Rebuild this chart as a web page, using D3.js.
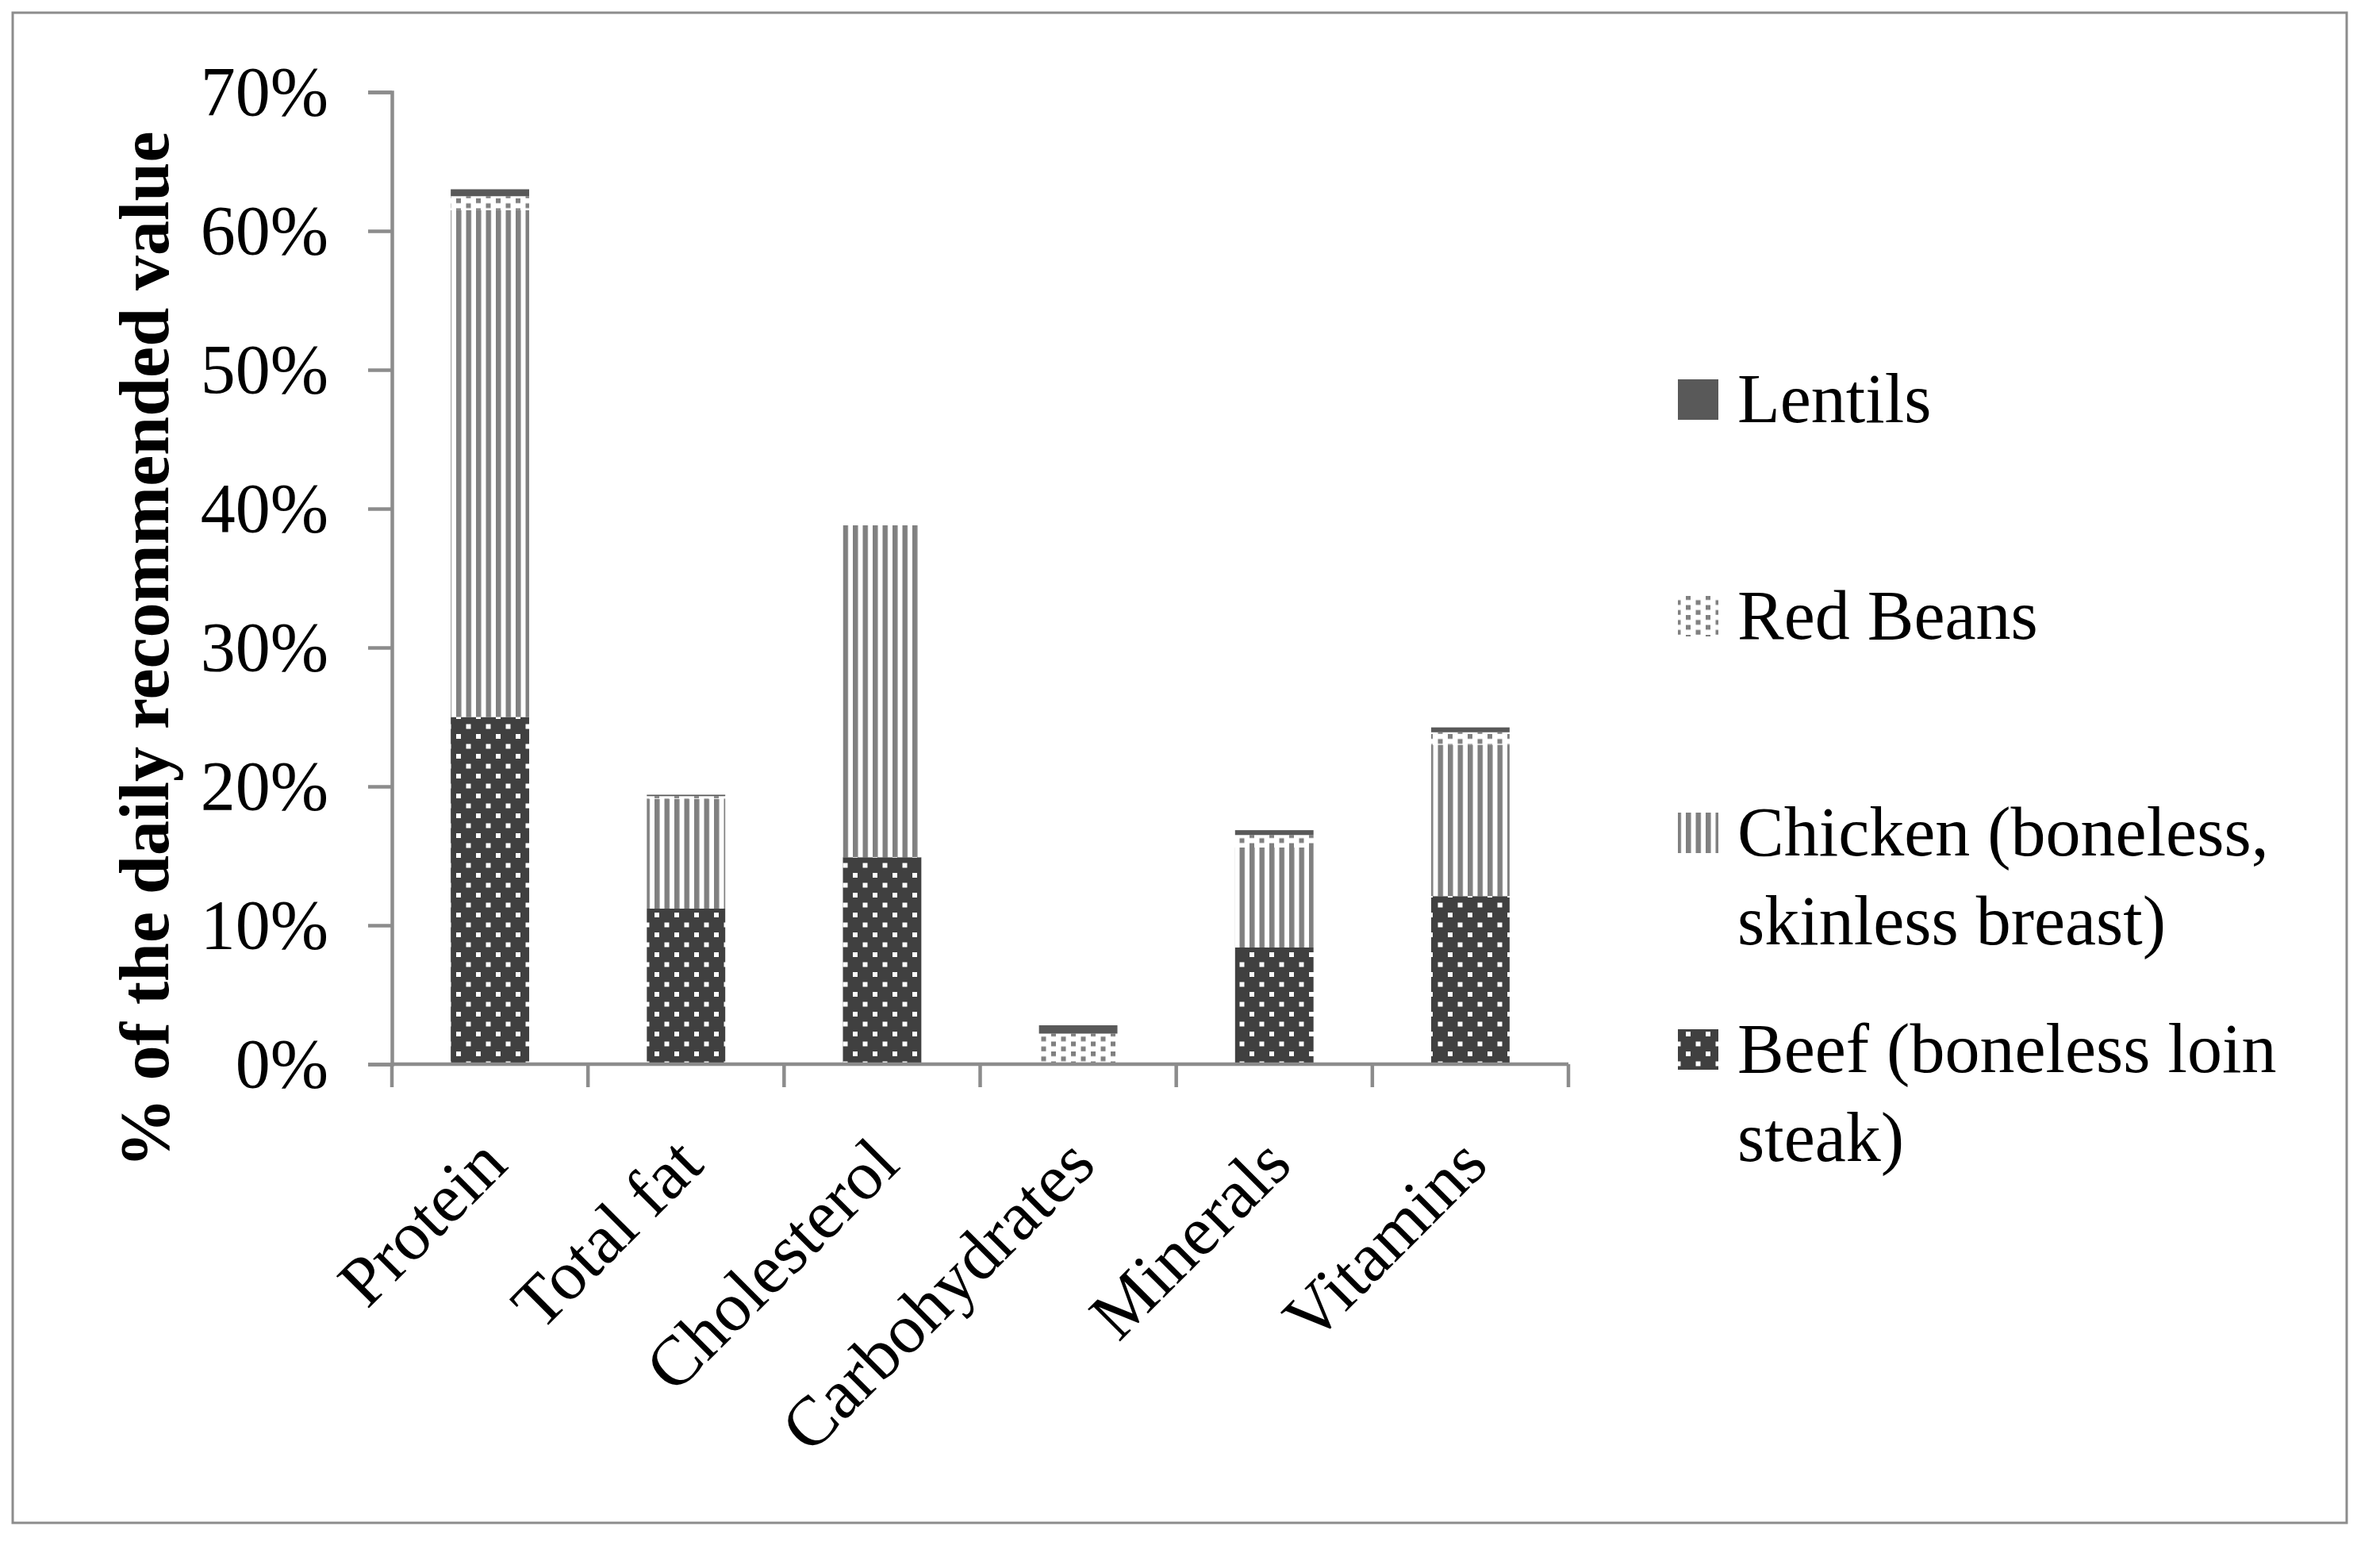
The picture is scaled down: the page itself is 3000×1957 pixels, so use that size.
<!DOCTYPE html>
<html>
<head>
<meta charset="utf-8">
<script src="https://cdn.jsdelivr.net/npm/d3@7"></script>
<style>
  body { margin: 0; background: #fff; }
  svg text { font-family: "Liberation Serif", "DejaVu Serif", serif; }
</style>
</head>
<body>
<div id="vis-container"></div>
<script>
// categories and series (% of daily recommended value)
const categories = ["Protein", "Total fat", "Cholesterol", "Carbohydrates", "Minerals", "Vitamins"]
const beef = [25.0, 11.2, 14.9, 0, 8.4, 12.1]
const chicken = [36.5, 7.9, 23.9, 0, 7.2, 10.9]
const redBeans = [1.0, 0.2, 0, 2.2, 0.9, 0.9]
const lentils = [0.5, 0.1, 0, 0.6, 0.35, 0.35]
const yTicks = [0, 10, 20, 30, 40, 50, 60, 70]
const seriesNames = ["Beef (boneless loin steak)", "Chicken (boneless, skinless breast)", "Red Beans", "Lentils"]

////////////////////////////////////
///////////// SVG Setup ////////////
////////////////////////////////////
const svgWidth = 3000
const svgHeight = 1957

const x0 = 494, x1 = 1977
const yBase = 1341, yTop = 116
const fontSize = 88

const svg = d3.select('#vis-container')
    .append('svg')
    .attr('width', svgWidth)
    .attr('height', svgHeight)

// outer border
svg.append('rect')
    .attr('x', 16).attr('y', 16)
    .attr('width', 2942).attr('height', 1903)
    .attr('fill', 'none')
    .attr('stroke', '#8c8c8c')
    .attr('stroke-width', 3)

////////////////////////////////////
///////////// Patterns /////////////
////////////////////////////////////
const defs = svg.append('defs')

// beef: dark with white dots
let pBeef = defs.append('pattern').attr('id', 'p-beef')
    .attr('patternUnits', 'userSpaceOnUse').attr('width', 25).attr('height', 25)
pBeef.append('rect').attr('width', 25).attr('height', 25).attr('fill', '#404040')
pBeef.append('rect').attr('x', 0).attr('y', 0).attr('width', 6).attr('height', 6).attr('fill', '#fff')
pBeef.append('rect').attr('x', 12.5).attr('y', 12.5).attr('width', 6).attr('height', 6).attr('fill', '#fff')

// chicken: vertical stripes
let pChicken = defs.append('pattern').attr('id', 'p-chicken')
    .attr('patternUnits', 'userSpaceOnUse').attr('width', 12.5).attr('height', 12.5)
pChicken.append('rect').attr('width', 12.5).attr('height', 12.5).attr('fill', '#fff')
pChicken.append('rect').attr('x', 0).attr('width', 6.5).attr('height', 12.5).attr('fill', '#808080')

// red beans: sparse gray dots
let pBeans = defs.append('pattern').attr('id', 'p-beans')
    .attr('patternUnits', 'userSpaceOnUse').attr('width', 25).attr('height', 12.5)
pBeans.append('rect').attr('width', 25).attr('height', 12.5).attr('fill', '#fff')
pBeans.append('rect').attr('x', 0).attr('y', 0).attr('width', 6).attr('height', 6).attr('fill', '#808080')
pBeans.append('rect').attr('x', 12.5).attr('y', 6.25).attr('width', 6).attr('height', 6).attr('fill', '#808080')

const fills = ['url(#p-beef)', 'url(#p-chicken)', 'url(#p-beans)', '#595959']

////////////////////////////////////
/////////////// Scales /////////////
////////////////////////////////////
let xScale = d3.scaleBand()
    .domain(categories)
    .range([x0, x1])
    .paddingInner(0.6)
    .paddingOuter(0.3)

let yScale = d3.scaleLinear()
    .domain([0, 70])
    .range([yBase, yTop])

////////////////////////////////////
///////////// Add Items ////////////
////////////////////////////////////
let table = categories.map((c, i) => ({
    cat: c, s0: beef[i], s1: chicken[i], s2: redBeans[i], s3: lentils[i]
}))
let stacked = d3.stack().keys(['s0', 's1', 's2', 's3'])(table)

svg.append('g').selectAll('g')
    .data(stacked)
    .join('g')
    .attr('fill', (d, i) => fills[i])
    .selectAll('rect')
    .data(d => d)
    .join('rect')
    .attr('x', d => xScale(d.data.cat))
    .attr('width', xScale.bandwidth())
    .attr('y', d => yScale(d[1]))
    .attr('height', d => yScale(d[0]) - yScale(d[1]))

////////////////////////////////////
////////////// Axis ////////////////
////////////////////////////////////
const axisColor = '#8c8c8c'

// y axis
let yAxis = d3.axisLeft(yScale)
    .tickValues(yTicks)
    .tickFormat(d => d + '%')
    .tickSize(30)
    .tickPadding(50)

let gy = svg.append('g')
    .attr('transform', `translate(${x0},0)`)
    .call(yAxis)
gy.select('.domain').attr('stroke', axisColor).attr('stroke-width', 4.5)
gy.selectAll('.tick line').attr('stroke', axisColor).attr('stroke-width', 4.5)
gy.selectAll('.tick text')
    .attr('font-size', fontSize)
    .attr('fill', '#000')
    .attr('font-family', '"Liberation Serif", serif')

// x axis: ticks at band boundaries
let gx = svg.append('g')
gx.append('line')
    .attr('x1', x0).attr('x2', x1)
    .attr('y1', yBase).attr('y2', yBase)
    .attr('stroke', axisColor).attr('stroke-width', 4.5)

let step = (x1 - x0) / categories.length
gx.selectAll('.xtick')
    .data(d3.range(categories.length + 1))
    .join('line')
    .attr('class', 'xtick')
    .attr('x1', i => x0 + i * step).attr('x2', i => x0 + i * step)
    .attr('y1', yBase).attr('y2', yBase + 29)
    .attr('stroke', axisColor).attr('stroke-width', 4.5)

gx.selectAll('.xlabel')
    .data(categories)
    .join('text')
    .attr('class', 'xlabel')
    .attr('transform', d => `translate(${xScale(d) + xScale.bandwidth() / 2 + 25},${yBase + 130}) rotate(-45)`)
    .attr('text-anchor', 'end')
    .attr('font-size', fontSize)
    .text(d => d)

// y axis title
svg.append('text')
    .attr('transform', `translate(212,${(yTop + yBase) / 2 + 90}) rotate(-90)`)
    .attr('text-anchor', 'middle')
    .attr('font-size', fontSize)
    .attr('font-weight', 'bold')
    .text('% of the daily recommended value')

////////////////////////////////////
///////////// Legend ///////////////
////////////////////////////////////
const legendItems = [
    { fill: fills[3], lines: ['Lentils'], y: 503 },
    { fill: fills[2], lines: ['Red Beans'], y: 776 },
    { fill: fills[1], lines: ['Chicken (boneless,', 'skinless breast)'], y: 1049 },
    { fill: fills[0], lines: ['Beef (boneless loin', 'steak)'], y: 1322 }
]

let legend = svg.append('g')
legendItems.forEach(item => {
    legend.append('rect')
        .attr('x', 2115).attr('y', item.y - 25)
        .attr('width', 51).attr('height', 51)
        .attr('fill', item.fill)
    item.lines.forEach((l, j) => {
        legend.append('text')
            .attr('x', 2190)
            .attr('y', item.y + 29 + j * 112)
            .attr('font-size', fontSize)
            .text(l)
    })
})
</script>
</body>
</html>
